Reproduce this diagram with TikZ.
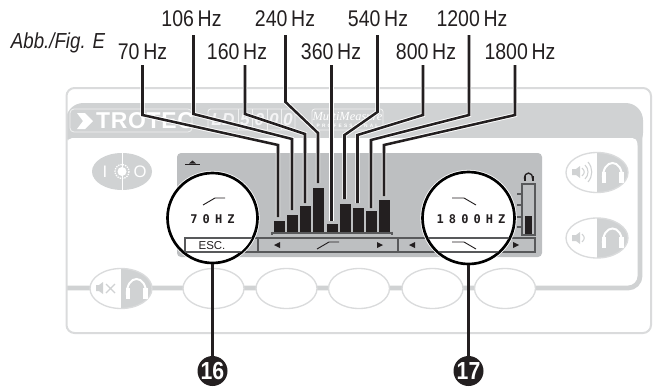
\documentclass[tikz,border=0pt]{standalone}
\usepackage{fontspec}
\usetikzlibrary{positioning, shapes.geometric}
\setmainfont{Liberation Sans}
\newfontfamily\hzfont[FakeStretch=0.86]{Liberation Sans}
\newfontfamily\lcdfont[LetterSpace=42]{DejaVu Sans Mono}
\newfontfamily\logofont[LetterSpace=3]{Liberation Sans}
\newfontfamily\brandfont{Liberation Serif}
\newfontfamily\tinyfont[LetterSpace=45]{Liberation Sans}
\definecolor{PanelLine}{HTML}{DADBDC}
\definecolor{PanelBand}{HTML}{D0D2D3}
\definecolor{ScreenGrey}{HTML}{BDBFC1}
\definecolor{CellLine}{HTML}{58595B}
\definecolor{Ink}{HTML}{231F20}

\begin{document}
\begin{tikzpicture}[
    x=0.75pt,
    y=-0.75pt,
    hzlabel/.style={font=\hzfont\fontsize{17}{17}\selectfont, inner sep=0pt, text=Ink},
    freqbar/.style={fill=Ink, anchor=south, inner sep=0pt, minimum width=8.25pt},
    leader/.style={draw=Ink, line width=1.9pt, preaction={draw=white, line width=3.3pt}},
    stem/.style={draw=Ink, line width=1.9pt},
    lens/.style={circle, draw=black, fill=white, line width=2pt, inner sep=0pt, preaction={draw=white, line width=3.2pt}},
    softbtn/.style={ellipse, draw=PanelLine, fill=white, line width=1pt, inner sep=0pt, minimum width=45.75pt, minimum height=30pt},
    ballnum/.style={circle, fill=Ink, text=white, inner sep=0pt, minimum size=22.5pt, font=\hzfont\bfseries\fontsize{18.5}{18.5}\selectfont},
    lcdtext/.style={font=\lcdfont\bfseries\fontsize{9}{9}\selectfont, inner sep=0pt, text=Ink},
    cell/.style={draw=CellLine, line width=0.8pt},
    icon/.style={draw=Ink, line width=0.7pt},
    wave/.style={draw=PanelBand, line width=0.8pt},
    halfbtn/.pic={
        \fill[white] (0,0) ellipse [x radius=31, y radius=20];
        \begin{scope}
            \clip (0,0) ellipse [x radius=31, y radius=20];
            \fill[PanelBand] (0,-21) rectangle (32,21);
        \end{scope}
        \draw[PanelLine, line width=1pt] (0,0) ellipse [x radius=31, y radius=20];
        \draw[white, line width=1.5pt] (6,7) .. controls (4.5,-15) and (26.5,-15) .. (25,7);
        \fill[white] (4.5,-1) rectangle (9,10);
        \fill[white] (22,-1) rectangle (26.5,10);
    }
]

\useasboundingbox (0,0) rectangle (656,389);

% panel
\fill[PanelBand, rounded corners=13pt] (66,103) -- (643,103) -- (643,150) -- (66,150) -- cycle;
\fill[white, rounded corners=4pt] (67,138) rectangle (637.5,200);
\draw[PanelBand, line width=3.6pt, rounded corners=9pt] (640,130) -- (640,288) -- (66,288);
\draw[PanelLine, line width=1.5pt, rounded corners=6pt] (66.5,88) rectangle (651,333);

% logos in the band
\draw[PanelLine!40, line width=0.6pt, rounded corners=3pt] (70,109) rectangle (192,132);
\fill[white] (77,113) -- (85,113) -- (93,121) -- (85,129) -- (77,129) -- (83,121) -- cycle;
\node[font=\logofont\bfseries\fontsize{17.2}{17}\selectfont, text=white, inner sep=0pt] (brand) at (145,121) {TROTEC};
\draw[PanelLine!40, line width=0.6pt, rounded corners=2pt] (208,109) rectangle (295,130);
\draw[PanelLine!40, line width=0.6pt] (238,109) -- (238,130) (252,109) -- (252,130) (267,109) -- (267,130) (281,109) -- (281,130);
\node[font=\bfseries\itshape\fontsize{13}{13}\selectfont, text=PanelLine!30, inner sep=0pt] (ldname) at (223,120) {LD};
\node[font=\bfseries\itshape\fontsize{13}{13}\selectfont, text=PanelLine!30, inner sep=0pt] (ld5) at (245,120) {5};
\node[font=\bfseries\itshape\fontsize{13}{13}\selectfont, text=PanelLine!30, inner sep=0pt] (ld0a) at (259.5,120) {0};
\node[font=\bfseries\itshape\fontsize{13}{13}\selectfont, text=PanelLine!30, inner sep=0pt] (ld0b) at (274,120) {0};
\node[font=\bfseries\itshape\fontsize{13}{13}\selectfont, text=PanelLine!30, inner sep=0pt] (ld0c) at (288,120) {0};
\draw[PanelLine!40, line width=0.6pt, rounded corners=2pt] (312,109) rectangle (383,130);
\node[font=\brandfont\itshape\fontsize{9.3}{10}\selectfont, text=white, inner sep=0pt] (multi) at (347.5,116) {MultiMeasure};
\node[font=\tinyfont\bfseries\fontsize{3.6}{4}\selectfont, text=white, inner sep=0pt] (pro) at (347.5,125.5) {PROFESSIONAL};

% buttons
\fill[PanelBand] (122,171.5) ellipse [x radius=30, y radius=18.5];
\draw[white, line width=0.6pt] (122,153) -- (122,190);
\node[font=\fontsize{12.5}{13}\selectfont, text=white, inner sep=0pt] (btnI) at (105,172) {I};
\node[font=\fontsize{12.5}{13}\selectfont, text=white, inner sep=0pt] (btnO) at (140,172) {O};
\fill[white] (122,171.5) circle [radius=4.5];
\draw[white, line width=1pt, dash pattern=on 1pt off 0.8pt] (122,171.5) circle [radius=7];

\pic (volup) at (597,172.5) {halfbtn};
\fill[PanelBand] (572,169) -- (576,169) -- (580,166) -- (580,178) -- (576,175) -- (572,175) -- cycle;
\draw[wave] (582,168) .. controls (585,171) and (585,173) .. (582,176);
\draw[wave] (585,165) .. controls (589,169) and (589,175) .. (585,179);
\draw[wave] (588,162) .. controls (593,168) and (593,176) .. (588,182);

\pic (voldown) at (597,238) {halfbtn};
\fill[PanelBand] (572,235) -- (576,235) -- (580,232) -- (580,244) -- (576,241) -- (572,241) -- cycle;
\draw[wave] (582,234) .. controls (585,237) and (585,239) .. (582,242);

\pic (mute) at (121,288.5) {halfbtn};
\fill[PanelBand] (96,285) -- (99,285) -- (103,282) -- (103,294) -- (99,291) -- (96,291) -- cycle;
\draw[PanelBand, line width=0.9pt] (106,284) -- (115,293) (115,284) -- (106,293);

\node[softbtn] (soft1) at (213.5,288.5) {};
\node[softbtn] (soft2) at (286.5,288.5) {};
\node[softbtn] (soft3) at (359,288.5) {};
\node[softbtn] (soft4) at (432.5,288.5) {};
\node[softbtn] (soft5) at (505,288.5) {};

% screen
\fill[ScreenGrey, rounded corners=3pt] (177,153) rectangle (542,257);
\fill[Ink] (185,163.5) rectangle (200,165);
\fill[Ink] (189,163.5) -- (192.5,160.5) -- (196,163.5) -- cycle;

\node[freqbar, minimum height=8.25pt] (b70) at (279.5,232) {};
\node[freqbar, minimum height=12.75pt] (b106) at (292.5,232) {};
\node[freqbar, minimum height=19.5pt] (b160) at (305.5,232) {};
\node[freqbar, minimum height=33pt] (b240) at (318.5,232) {};
\node[freqbar, minimum height=6pt] (b360) at (332.5,232) {};
\node[freqbar, minimum height=21pt] (b540) at (345.5,232) {};
\node[freqbar, minimum height=18pt] (b800) at (358.5,232) {};
\node[freqbar, minimum height=15.75pt] (b1200) at (371.5,232) {};
\node[freqbar, minimum height=24pt] (b1800) at (384.5,232) {};
\draw[CellLine, line width=0.8pt] (272,233) -- (392,233);
\draw[CellLine, line width=1.2pt] (272,231.5) -- (272,234.5) (392,231.5) -- (392,234.5);

\draw[cell] (185,238) rectangle (258,252);
\draw[cell] (258,238) rectangle (398,252);
\draw[cell] (398,238) rectangle (535,252);
\fill[Ink] (274,245) -- (280,242) -- (280,248) -- cycle;
\fill[Ink] (383,245) -- (377,242) -- (377,248) -- cycle;
\fill[Ink] (409,245) -- (415,242) -- (415,248) -- cycle;
\fill[Ink] (519,245) -- (513,242) -- (513,248) -- cycle;
\draw[icon] (317,249) -- (329,242) -- (339,242);

% level meter
\fill[Ink] (525,216) rectangle (532,234);
\draw[CellLine, line width=0.8pt] (522,184) rectangle (535,235);
\draw[CellLine, line width=0.8pt] (517,194) -- (522,194) (517,205) -- (522,205) (517,217) -- (522,217) (517,227) -- (522,227);
\draw[Ink, line width=1pt] (524.5,179) .. controls (524,171) and (533,171) .. (532.5,179);
\fill[Ink] (523.5,176) rectangle (525.5,180.5);
\fill[Ink] (531.5,176) rectangle (533.5,180.5);

% magnified softkeys
\node[lens, minimum size=67.5pt] (lensL) at (212.5,218) {};
\begin{scope}
    \clip (lensL.center) circle [radius=44];
    \draw[cell, fill=white] (185,238) rectangle (258,252);
\end{scope}
\draw[icon] (203,205) -- (215,198) -- (225,198);
\node[lcdtext] (lcd70) at (212.5,219) {70HZ};
\node[font=\fontsize{8.6}{9}\selectfont, text=Ink, inner sep=0pt] (esc) at (212,246) {ESC.};

\node[lens, minimum size=69pt] (lensR) at (468.5,218) {};
\begin{scope}
    \clip (lensR.center) circle [radius=45];
    \draw[cell] (400,238) -- (530,238) (400,252) -- (530,252);
\end{scope}
\draw[icon] (452,198) -- (464,198) -- (476,205);
\node[lcdtext] (lcd1800) at (471,219) {1800HZ};
\draw[icon] (452,242) -- (464,242) -- (476,249);

% frequency labels and their leaders
\node[font=\hzfont\itshape\fontsize{16.3}{16}\selectfont, inner sep=0pt, text=Ink] (figname) at (58,43) {Abb./Fig. E};
\node[hzlabel] (l106) at (191.5,19) {106\,Hz};
\node[hzlabel] (l240) at (285,19) {240\,Hz};
\node[hzlabel] (l540) at (378,19) {540\,Hz};
\node[hzlabel] (l1200) at (472,19) {1200\,Hz};
\node[hzlabel] (l70) at (142.5,52) {70\,Hz};
\node[hzlabel] (l160) at (237,52) {160\,Hz};
\node[hzlabel] (l360) at (331,52) {360\,Hz};
\node[hzlabel] (l800) at (426,52) {800\,Hz};
\node[hzlabel] (l1800) at (520,52) {1800\,Hz};

\coordinate (s70) at (142.5,65); \coordinate (t70) at (278,217);
\coordinate (s106) at (193.5,35); \coordinate (t106) at (292,210);
\coordinate (s160) at (245,65); \coordinate (t160) at (305,203);
\coordinate (s240) at (285.5,35); \coordinate (t240) at (318,183);
\coordinate (s360) at (331.5,65); \coordinate (t360) at (331.5,221);
\coordinate (s540) at (377.5,35); \coordinate (t540) at (344.5,199);
\coordinate (s800) at (423,65); \coordinate (t800) at (357.5,203);
\coordinate (s1200) at (469,35); \coordinate (t1200) at (371,208);
\coordinate (s1800) at (515,65); \coordinate (t1800) at (384,196);

\draw[leader] (s70) -- (142.5,115) -- (278,145) -- (t70);
\draw[leader] (s106) -- (193.5,114) -- (292,139) -- (t106);
\draw[leader] (s160) -- (245,114) -- (305,134) -- (t160);
\draw[leader] (s240) -- (285.5,102) -- (318,133) -- (t240);
\draw[leader] (s360) -- (t360);
\draw[leader] (s540) -- (377.5,112) -- (344.5,135) -- (t540);
\draw[leader] (s800) -- (423,115) -- (357.5,135) -- (t800);
\draw[leader] (s1200) -- (469,115) -- (371,140) -- (t1200);
\draw[leader] (s1800) -- (515,115) -- (384,145) -- (t1800);

% callouts
\node[ballnum] (n16) at (212.5,371) {16};
\node[ballnum] (n17) at (468.5,371) {17};
\draw[stem] (lensL.south) -- (n16);
\draw[stem] (lensR.south) -- (n17);

\end{tikzpicture}
\end{document}
